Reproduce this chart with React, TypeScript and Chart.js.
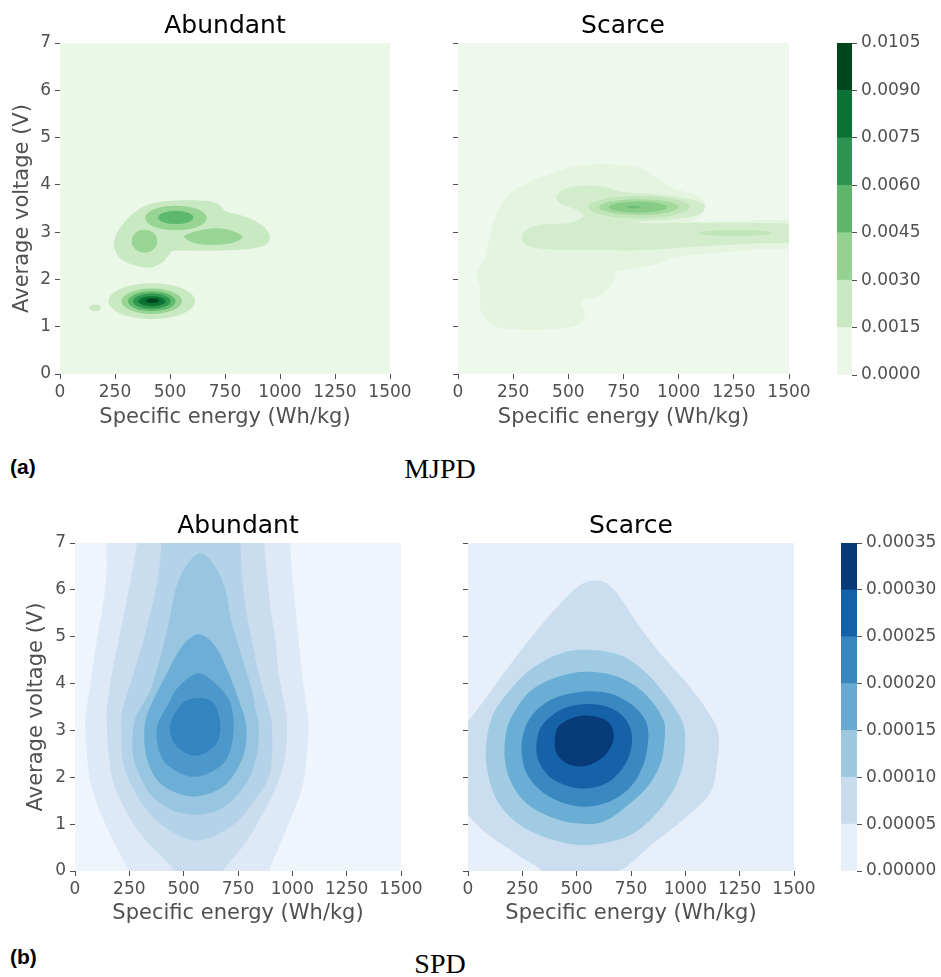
import React, { useEffect, useRef } from 'react';
import { Chart, registerables } from 'chart.js';

Chart.register(...registerables);

// ---------- axes ----------
const X_TICKS = [0, 250, 500, 750, 1000, 1250, 1500];
const Y_TICKS = [0, 1, 2, 3, 4, 5, 6, 7];
const X_TITLE = 'Specific energy (Wh/kg)';
const Y_TITLE = 'Average voltage (V)';

// ---------- colour bars ----------
const GREEN_LEVELS = [0, 0.0015, 0.003, 0.0045, 0.006, 0.0075, 0.009, 0.0105];
const GREEN_BAND_COLORS = ['#eaf6e6', '#c8e9c1', '#95d290', '#5db66a', '#2e9350', '#0b7235', '#00461c'];
const BLUE_LEVELS = [0, 0.00005, 0.0001, 0.00015, 0.0002, 0.00025, 0.0003, 0.00035];
const BLUE_BAND_COLORS = ['#e6f0fa', '#c9dcee', '#9dc8e0', '#66a9d2', '#3885c0', '#1461a8', '#083a7a'];

// ---------- panel band colours (index 0 = background) ----------
const MJPD_AB_COLORS = ['#ebf7e7', '#c8e9c1', '#98d594', '#5db96b', '#2f974e', '#0b7433', '#00461c'];
const MJPD_SC_COLORS = ['#eff8ed', '#e4f4e0', '#d3edcc', '#c0e5b8', '#a5da9f', '#86cc86', '#6bbe72'];
const SPD_AB_COLORS = ['#eef5fc', '#dde9f6', '#c9ddef', '#b4d3e9', '#98c6e0', '#6caed6', '#4d98ca', '#3484bf'];
const SPD_SC_COLORS = ['#e7f0fa', '#cbdeef', '#a0cbe2', '#6aaed6', '#3a88c1', '#1562a9', '#083b7a'];

// ---------- MJPD / Abundant contours (energy, voltage) ----------
const MJPD_AB_UPPER_1 = [[245, 2.70], [258, 2.97], [295, 3.22], [333, 3.40], [394, 3.57], [485, 3.66], [636, 3.67], [712, 3.61], [757, 3.43], [818, 3.36], [894, 3.22], [939, 3.05], [954, 2.89], [932, 2.73], [848, 2.64], [697, 2.61], [530, 2.61], [500, 2.55], [470, 2.38], [409, 2.25], [333, 2.31], [273, 2.45]];
const MJPD_AB_RIGHT_2 = [[564, 2.90], [600, 2.99], [660, 3.06], [718, 3.08], [780, 3.03], [830, 2.90], [790, 2.78], [700, 2.73], [610, 2.77]];
// ellipses: [centre energy, centre voltage, half-width, half-height]
const MJPD_AB_TOP_2 = [527, 3.30, 140, 0.26];
const MJPD_AB_TOP_3 = [526, 3.31, 80, 0.14];
const MJPD_AB_LEFT_2 = [384, 2.81, 58, 0.24];
const MJPD_AB_SMALL_1 = [160, 1.40, 27, 0.07];
const MJPD_AB_LOW = [
  [417, 1.54, 197, 0.38],
  [417, 1.54, 137, 0.27],
  [417, 1.54, 108, 0.21],
  [417, 1.54, 85, 0.16],
  [418, 1.54, 61, 0.105],
  [420, 1.55, 30, 0.05],
];

// ---------- MJPD / Scarce contours ----------
const MJPD_SC_A = [[281, 3.96], [402, 4.21], [523, 4.38], [674, 4.44], [825, 4.35], [915, 4.10], [976, 3.93], [1097, 3.75], [1119, 3.54], [1082, 3.29], [1097, 3.22], [1550, 3.22], [1550, 2.70], [1369, 2.64], [1187, 2.57], [991, 2.48], [915, 2.34], [825, 2.24], [719, 2.16], [704, 1.95], [644, 1.66], [563, 1.53], [575, 1.28], [553, 1.07], [462, 0.96], [311, 0.93], [175, 1.00], [107, 1.28], [100, 1.78], [85, 2.13], [122, 2.48], [145, 2.90], [175, 3.40], [221, 3.75]];
const MJPD_SC_B = [[447, 3.78], [508, 3.95], [643, 3.98], [734, 3.86], [855, 3.81], [991, 3.75], [1097, 3.64], [1119, 3.52], [1089, 3.36], [976, 3.27], [855, 3.24], [832, 3.19], [1066, 3.20], [1550, 3.15], [1550, 2.80], [1338, 2.76], [1066, 2.69], [855, 2.62], [613, 2.62], [402, 2.64], [311, 2.73], [289, 2.90], [319, 3.08], [402, 3.17], [508, 3.20], [568, 3.33], [538, 3.47], [462, 3.61]];
const MJPD_SC_C = [820, 3.53, 230, 0.236];
const MJPD_SC_C_RIGHT = [1255, 2.98, 166, 0.063];
const MJPD_SC_D = [820, 3.53, 181, 0.166];
const MJPD_SC_E = [815, 3.53, 132, 0.116];
const MJPD_SC_F = [795, 3.53, 30, 0.03];

// ---------- SPD / Abundant contours ----------
const SPD_AB_1 = [[145, 7.3], [145, 7.0], [145, 6.35], [128, 5.64], [101, 4.93], [78, 4.22], [55, 3.51], [47, 3.12], [55, 2.48], [78, 1.76], [155, 0.84], [248, 0], [248, -0.3], [893, -0.3], [893, 0], [968, 0.84], [1044, 1.76], [1067, 2.48], [1075, 3.12], [1067, 3.47], [1044, 4.22], [1029, 4.93], [1014, 5.64], [998, 6.35], [991, 7.0], [991, 7.3]];
const SPD_AB_2 = [[285, 7.3], [285, 7.0], [262, 6.35], [232, 5.64], [201, 4.93], [170, 4.22], [147, 3.47], [147, 3.12], [155, 2.48], [186, 1.76], [293, 0.84], [460, 0], [460, -0.3], [681, -0.3], [681, 0], [799, 0.70], [922, 1.76], [968, 2.48], [975, 3.12], [968, 3.47], [937, 4.22], [922, 4.93], [899, 5.64], [883, 6.35], [871, 7.0], [871, 7.3]];
const SPD_AB_3 = [[397, 7.3], [397, 7.0], [385, 6.35], [354, 5.64], [316, 4.93], [270, 4.22], [220, 3.47], [213, 3.12], [224, 2.26], [293, 1.55], [400, 0.98], [554, 0.65], [707, 0.91], [822, 1.48], [899, 2.12], [906, 3.12], [891, 3.47], [845, 4.22], [814, 4.93], [784, 5.64], [768, 6.35], [761, 7.0], [761, 7.3]];
const SPD_AB_4 = [[577, 6.78], [646, 6.49], [692, 6.0], [722, 5.28], [768, 4.57], [814, 3.86], [830, 3.47], [845, 3.12], [837, 2.48], [784, 1.84], [676, 1.34], [546, 1.20], [431, 1.34], [339, 1.69], [270, 2.40], [270, 3.12], [300, 3.47], [347, 3.86], [393, 4.57], [431, 5.28], [462, 6.0], [508, 6.49]];
const SPD_AB_5 = [[569, 5.05], [646, 4.79], [707, 4.22], [753, 3.65], [787, 3.12], [776, 2.48], [692, 1.84], [546, 1.59], [400, 1.84], [331, 2.40], [321, 3.12], [360, 3.65], [423, 4.22], [492, 4.79]];
const SPD_AB_6 = [[569, 4.22], [661, 3.93], [715, 3.58], [730, 3.05], [707, 2.48], [646, 2.16], [546, 2.01], [446, 2.19], [393, 2.48], [377, 3.05], [431, 3.58], [477, 3.93]];
const SPD_AB_7 = [[569, 3.69], [638, 3.58], [669, 3.10], [646, 2.69], [554, 2.46], [462, 2.69], [438, 3.12], [495, 3.58]];

// ---------- SPD / Scarce contours ----------
const SPD_SC_1 = [[-40, 3.0], [0, 3.19], [86, 3.72], [209, 4.50], [331, 5.21], [439, 5.78], [515, 6.10], [577, 6.20], [638, 6.14], [699, 5.85], [791, 5.21], [883, 4.65], [1006, 4.01], [1098, 3.44], [1152, 2.94], [1144, 2.23], [1113, 1.66], [1006, 1.16], [853, 0.59], [730, 0.09], [699, 0], [690, -0.3], [330, -0.3], [339, 0], [239, 0.31], [86, 0.80], [0, 1.20], [-40, 1.4]];
const SPD_SC_2 = [[531, 4.72], [699, 4.61], [822, 4.22], [914, 3.72], [975, 3.29], [998, 2.94], [991, 2.30], [945, 1.73], [853, 1.16], [730, 0.73], [546, 0.55], [393, 0.66], [239, 0.98], [132, 1.52], [86, 2.23], [86, 2.80], [117, 3.36], [193, 3.86], [285, 4.29], [408, 4.61]];
const SPD_SC_3 = [[531, 4.25], [669, 4.18], [776, 3.93], [853, 3.58], [899, 3.22], [906, 2.94], [891, 2.37], [837, 1.87], [745, 1.44], [623, 1.05], [500, 1.02], [377, 1.16], [270, 1.44], [201, 1.87], [170, 2.37], [175, 2.94], [209, 3.36], [285, 3.83], [393, 4.11]];
const SPD_SC_4 = [[531, 3.83], [653, 3.79], [745, 3.58], [807, 3.29], [830, 2.94], [814, 2.37], [761, 1.87], [669, 1.52], [546, 1.37], [423, 1.48], [331, 1.73], [270, 2.08], [247, 2.51], [255, 2.94], [301, 3.36], [393, 3.68]];
const SPD_SC_5 = [[531, 3.56], [638, 3.51], [715, 3.29], [753, 2.94], [745, 2.51], [699, 2.12], [623, 1.84], [515, 1.76], [408, 1.91], [347, 2.16], [316, 2.51], [324, 2.94], [362, 3.22], [439, 3.47]];
const SPD_SC_6 = [[515, 3.31], [615, 3.26], [661, 3.08], [669, 2.80], [638, 2.51], [577, 2.30], [515, 2.23], [454, 2.30], [408, 2.51], [400, 2.83], [423, 3.12]];

type Shape = { band: number; pts?: number[][]; ell?: number[] };

const MJPD_AB_SHAPES: Shape[] = [
  { band: 1, pts: MJPD_AB_UPPER_1 },
  { band: 1, ell: MJPD_AB_SMALL_1 },
  { band: 2, ell: MJPD_AB_TOP_2 },
  { band: 2, ell: MJPD_AB_LEFT_2 },
  { band: 2, pts: MJPD_AB_RIGHT_2 },
  { band: 3, ell: MJPD_AB_TOP_3 },
  ...MJPD_AB_LOW.map((e, i) => ({ band: i + 1, ell: e })),
];
const MJPD_SC_SHAPES: Shape[] = [
  { band: 1, pts: MJPD_SC_A },
  { band: 2, pts: MJPD_SC_B },
  { band: 3, ell: MJPD_SC_C },
  { band: 3, ell: MJPD_SC_C_RIGHT },
  { band: 4, ell: MJPD_SC_D },
  { band: 5, ell: MJPD_SC_E },
  { band: 6, ell: MJPD_SC_F },
];
const SPD_AB_SHAPES: Shape[] = [SPD_AB_1, SPD_AB_2, SPD_AB_3, SPD_AB_4, SPD_AB_5, SPD_AB_6, SPD_AB_7].map((p, i) => ({ band: i + 1, pts: p }));
const SPD_SC_SHAPES: Shape[] = [SPD_SC_1, SPD_SC_2, SPD_SC_3, SPD_SC_4, SPD_SC_5, SPD_SC_6].map((p, i) => ({ band: i + 1, pts: p }));

const FONT = 'DejaVu Sans';
const GREY = '#505050';

function traceSmooth(ctx: CanvasRenderingContext2D, pts: number[][]) {
  const n = pts.length;
  ctx.moveTo(pts[0][0], pts[0][1]);
  for (let i = 0; i < n; i++) {
    const p0 = pts[(i - 1 + n) % n];
    const p1 = pts[i];
    const p2 = pts[(i + 1) % n];
    const p3 = pts[(i + 2) % n];
    ctx.bezierCurveTo(
      p1[0] + (p2[0] - p0[0]) / 6, p1[1] + (p2[1] - p0[1]) / 6,
      p2[0] - (p3[0] - p1[0]) / 6, p2[1] - (p3[1] - p1[1]) / 6,
      p2[0], p2[1]
    );
  }
  ctx.closePath();
}

function contourPlugin(colors: string[], shapes: Shape[]) {
  return {
    id: 'contours',
    beforeDatasetsDraw(chart: any) {
      const { ctx, chartArea: a } = chart;
      const xs = chart.scales.x;
      const ys = chart.scales.y;
      ctx.save();
      ctx.beginPath();
      ctx.rect(a.left, a.top, a.right - a.left, a.bottom - a.top);
      ctx.clip();
      ctx.fillStyle = colors[0];
      ctx.fillRect(a.left, a.top, a.right - a.left, a.bottom - a.top);
      const sorted = [...shapes].sort((p, q) => p.band - q.band);
      for (const s of sorted) {
        ctx.fillStyle = colors[s.band];
        ctx.beginPath();
        if (s.ell) {
          const [cx, cy, rx, ry] = s.ell;
          const px = xs.getPixelForValue(cx);
          const py = ys.getPixelForValue(cy);
          const rpx = Math.abs(xs.getPixelForValue(cx + rx) - px);
          const rpy = Math.abs(ys.getPixelForValue(cy + ry) - py);
          ctx.ellipse(px, py, rpx, rpy, 0, 0, Math.PI * 2);
        } else if (s.pts) {
          traceSmooth(ctx, s.pts.map(([u, v]) => [xs.getPixelForValue(u), ys.getPixelForValue(v)]));
        }
        ctx.fill();
      }
      ctx.restore();
    },
  };
}

type PanelSpec = {
  left: number; top: number; w: number; h: number;
  pad: { left: number; top: number; right: number; bottom: number };
  yW: number; xH: number; showY: boolean; xTitlePad: number; yTitlePad: number;
  colors: string[]; shapes: Shape[];
};

function Panel({ s }: { s: PanelSpec }) {
  const ref = useRef<HTMLCanvasElement>(null);
  useEffect(() => {
    const tickFont = { family: FONT, size: 17 };
    const titleFont = { family: FONT, size: 21 };
    const grid = { display: true, drawOnChartArea: false, drawTicks: true, tickLength: 5, color: GREY, tickColor: GREY, tickWidth: 1 };
    const plain = (v: any) => String(v);
    const chart = new Chart(ref.current as HTMLCanvasElement, {
      type: 'scatter',
      data: { datasets: [{ data: [], showLine: false }] },
      plugins: [contourPlugin(s.colors, s.shapes)],
      options: {
        animation: false,
        responsive: false,
        layout: { padding: s.pad },
        plugins: { legend: { display: false }, tooltip: { enabled: false }, title: { display: false } },
        scales: {
          x: {
            type: 'linear', min: 0, max: 1500,
            afterBuildTicks: (sc: any) => { sc.ticks = X_TICKS.map((v) => ({ value: v })); },
            afterFit: (sc: any) => { sc.height = s.xH; },
            grid, border: { display: false },
            ticks: { font: tickFont, color: GREY, padding: 3, maxRotation: 0, autoSkip: false, callback: plain },
            title: { display: true, text: X_TITLE, font: titleFont, color: GREY, padding: { top: 0, bottom: s.xTitlePad } },
          },
          y: {
            type: 'linear', min: 0, max: 7,
            afterBuildTicks: (sc: any) => { sc.ticks = Y_TICKS.map((v) => ({ value: v })); },
            afterFit: (sc: any) => { sc.width = s.yW; },
            grid, border: { display: false },
            ticks: { display: s.showY, font: tickFont, color: GREY, padding: 4, autoSkip: false, callback: plain },
            title: { display: s.showY, text: Y_TITLE, font: titleFont, color: GREY, padding: { top: s.yTitlePad, bottom: 0 } },
          },
        },
      } as any,
    });
    return () => chart.destroy();
  }, []);
  return (
    <canvas ref={ref} width={s.w} height={s.h}
      style={{ position: 'absolute', left: s.left, top: s.top, width: s.w, height: s.h }} />
  );
}

type BarSpec = { left: number; top: number; w: number; h: number; pad: any; yW: number; levels: number[]; colors: string[]; digits: number };

function ColorBar({ s }: { s: BarSpec }) {
  const ref = useRef<HTMLCanvasElement>(null);
  useEffect(() => {
    const chart = new Chart(ref.current as HTMLCanvasElement, {
      type: 'bar',
      data: {
        labels: [''],
        datasets: s.colors.map((c, i) => ({
          data: [[s.levels[i], s.levels[i + 1]]],
          backgroundColor: c, borderWidth: 0, barPercentage: 1, categoryPercentage: 1,
        })),
      },
      options: {
        animation: false,
        responsive: false,
        layout: { padding: s.pad },
        plugins: { legend: { display: false }, tooltip: { enabled: false } },
        scales: {
          x: { display: false, stacked: true },
          y: {
            position: 'right', min: s.levels[0], max: s.levels[s.levels.length - 1],
            afterBuildTicks: (sc: any) => { sc.ticks = s.levels.map((v) => ({ value: v })); },
            afterFit: (sc: any) => { sc.width = s.yW; },
            grid: { display: true, drawOnChartArea: false, drawTicks: true, tickLength: 5, color: GREY, tickColor: GREY },
            border: { display: false },
            ticks: {
              font: { family: FONT, size: 17 }, color: GREY, padding: 4, autoSkip: false,
              callback: (v: any) => Number(v).toFixed(s.digits),
            },
          },
        },
      } as any,
    });
    return () => chart.destroy();
  }, []);
  return (
    <canvas ref={ref} width={s.w} height={s.h}
      style={{ position: 'absolute', left: s.left, top: s.top, width: s.w, height: s.h }} />
  );
}

const titleStyle = (cx: number, cy: number): React.CSSProperties => ({
  position: 'absolute', left: cx - 150, width: 300, top: cy - 15, height: 30, lineHeight: '30px',
  textAlign: 'center', fontFamily: FONT, fontSize: 25, color: '#000',
});

export default function App() {
  const panels: PanelSpec[] = [
    { left: 0, top: 0, w: 420, h: 430, pad: { left: 0, top: 43, right: 30, bottom: 0 }, yW: 60, xH: 56, showY: true, xTitlePad: 0, yTitlePad: 10, colors: MJPD_AB_COLORS, shapes: MJPD_AB_SHAPES },
    { left: 420, top: 0, w: 400, h: 430, pad: { left: 0, top: 43, right: 31, bottom: 0 }, yW: 38, xH: 56, showY: false, xTitlePad: 0, yTitlePad: 0, colors: MJPD_SC_COLORS, shapes: MJPD_SC_SHAPES },
    { left: 0, top: 500, w: 430, h: 430, pad: { left: 0, top: 43, right: 29, bottom: 0 }, yW: 75, xH: 59, showY: true, xTitlePad: 4, yTitlePad: 24, colors: SPD_AB_COLORS, shapes: SPD_AB_SHAPES },
    { left: 420, top: 500, w: 410, h: 430, pad: { left: 0, top: 43, right: 36, bottom: 0 }, yW: 48, xH: 59, showY: false, xTitlePad: 4, yTitlePad: 0, colors: SPD_SC_COLORS, shapes: SPD_SC_SHAPES },
  ];
  const bars: BarSpec[] = [
    { left: 820, top: 0, w: 121, h: 430, pad: { left: 17, top: 43, right: 0, bottom: 55 }, yW: 89, levels: GREEN_LEVELS, colors: GREEN_BAND_COLORS, digits: 4 },
    { left: 820, top: 500, w: 121, h: 430, pad: { left: 21, top: 43, right: 0, bottom: 59 }, yW: 84, levels: BLUE_LEVELS, colors: BLUE_BAND_COLORS, digits: 5 },
  ];
  return (
    <div style={{ position: 'absolute', left: 0, top: 0, width: 941, height: 977, background: '#fff', overflow: 'hidden' }}>
      {panels.map((p, i) => <Panel key={'p' + i} s={p} />)}
      {bars.map((b, i) => <ColorBar key={'b' + i} s={b} />)}
      <div style={titleStyle(225, 25)}>Abundant</div>
      <div style={titleStyle(623, 25)}>Scarce</div>
      <div style={titleStyle(238, 525)}>Abundant</div>
      <div style={titleStyle(631, 525)}>Scarce</div>
      <div style={{ position: 'absolute', left: 10, top: 454, fontFamily: 'Liberation Sans', fontWeight: 'bold', fontSize: 21, lineHeight: '26px', color: '#000' }}>(a)</div>
      <div style={{ position: 'absolute', left: 290, width: 300, top: 452, textAlign: 'center', fontFamily: 'Liberation Serif', fontSize: 28, lineHeight: '34px', color: '#000' }}>MJPD</div>
      <div style={{ position: 'absolute', left: 10, top: 944, fontFamily: 'Liberation Sans', fontWeight: 'bold', fontSize: 21, lineHeight: '26px', color: '#000' }}>(b)</div>
      <div style={{ position: 'absolute', left: 290, width: 300, top: 947, textAlign: 'center', fontFamily: 'Liberation Serif', fontSize: 28, lineHeight: '34px', color: '#000' }}>SPD</div>
    </div>
  );
}
